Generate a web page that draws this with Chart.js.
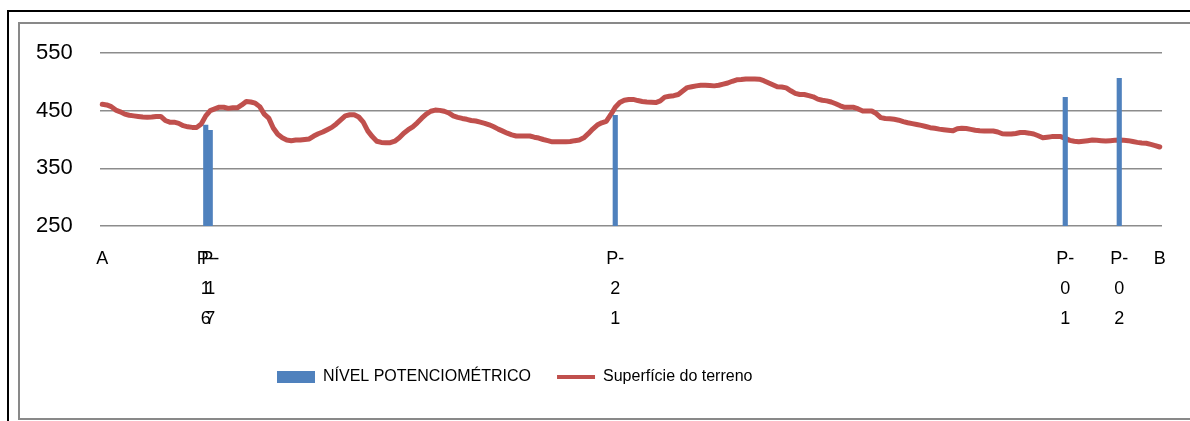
<!DOCTYPE html>
<html>
<head>
<meta charset="utf-8">
<script src="https://cdn.jsdelivr.net/npm/chart.js@4.4.1/dist/chart.umd.min.js"></script>
<style>
body { margin: 0; background: #fff; overflow: hidden; }
#outer { position: absolute; left: 7px; top: 10px; width: 1400px; height: 600px; border: 2px solid #000; }
#inner { position: absolute; left: 18px; top: 22px; width: 1400px; height: 398px; box-sizing: border-box; border: 2px solid #898989; }
#chartBox { position: absolute; left: 20px; top: 24px; }
</style>
</head>
<body>
<div id="outer"></div>
<div id="inner"></div>
<div id="chartBox"><canvas id="profileChart" width="1170" height="395"></canvas></div>
<script>
// terrain profile A -> B (m), one value per category
var terrain = [
461, 460, 457, 451, 448, 444, 442, 441, 440, 439,
438.5, 439, 440, 440, 433, 430, 430, 428, 424, 422,
421, 421, 427, 441, 450, 453, 456, 456, 454, 455,
455, 460, 466, 465, 463, 457, 444, 437, 420, 409,
403, 399, 398, 399, 399, 400, 401, 406, 410, 413,
417, 421, 427, 434, 441, 443, 443, 439, 430, 415,
405, 397, 395, 394.5, 394.5, 397, 403, 411, 417, 422,
429, 437, 444, 449, 451, 450.5, 449, 446, 441, 438.5,
436.5, 435, 433, 432, 430, 428, 425.5, 422, 418, 414.5,
411, 408, 406, 406, 406, 406, 404, 402.5, 400, 398,
396, 396, 396, 396, 396.5, 398, 399, 403, 410, 418,
425, 429, 431.5, 443, 456, 464, 468, 469.5, 469.5, 467.5,
466, 465, 464.5, 464, 467, 473.5, 475, 476, 478, 484,
490, 491.5, 493, 494, 494, 493.5, 493, 494, 496, 498,
501, 503.5, 504, 505, 505, 505, 504.5, 502, 498.5, 495,
491.5, 491, 489.5, 484.5, 480, 478, 478, 476, 474, 470,
468, 467, 465, 462, 458.5, 455.8, 455.8, 455.8, 453, 449.4,
449.4, 449.4, 445, 438, 436.5, 436, 435, 433.5, 431, 429,
427.5, 426, 424.5, 422.5, 420.5, 419.5, 418, 417, 416, 415,
418.5, 419.4, 419, 417.5, 416, 415, 414.7, 414.7, 414.7, 413,
410, 409.5, 409.5, 410.5, 412, 412, 411, 409.5, 406.5, 403,
404, 405, 405, 405, 402, 398.5, 397, 396, 397, 398,
399, 398.5, 398, 397.5, 398, 398.5, 399, 398.5, 398, 396.5,
395, 394, 393.5, 391.5, 389.5, 387
];

// piezometers: name, category index along the profile, potentiometric level
var wellNames = ['P-16', 'P-17', 'P-21', 'P-01', 'P-02'];
var wellIndex = [23, 24, 114, 214, 226];
var wellLevel = [425, 416, 442, 473, 506];

var endNames = ['A', 'B'];
var yTicks = [250, 350, 450, 550];

var BLUE = '#4f81bd';
var RED = '#c0504d';
var FONT = '"Liberation Sans", Arial, sans-serif';

var labels = terrain.map(function () { return ''; });
labels[0] = endNames[0];
labels[labels.length - 1] = endNames[1];
var levels = terrain.map(function () { return null; });
wellNames.forEach(function (name, k) {
  // Excel wraps the narrow labels one piece per line
  labels[wellIndex[k]] = [name.slice(0, 2)].concat(name.slice(2).split(''));
  levels[wellIndex[k]] = wellLevel[k];
});

var shiftLegend = {
  id: 'shiftLegend',
  afterLayout: function (chart) { chart.legend.left = 231; }
};

var ctx = document.getElementById('profileChart').getContext('2d');
var chart = new Chart(ctx, {
  type: 'bar',
  data: {
    labels: labels,
    datasets: [{
      type: 'bar',
      label: 'NÍVEL POTENCIOMÉTRICO',
      data: levels,
      backgroundColor: BLUE,
      barPercentage: 1,
      categoryPercentage: 1,
      order: 0
    }, {
      type: 'line',
      label: 'Superfície do terreno',
      data: terrain,
      borderColor: RED,
      backgroundColor: RED,
      borderWidth: 5,
      pointRadius: 0,
      tension: 0,
      borderJoinStyle: 'round',
      borderCapStyle: 'round',
      order: 1
    }]
  },
  plugins: [shiftLegend],
  options: {
    responsive: false,
    animation: false,
    layout: { padding: { top: 29, right: 28, bottom: 24, left: 16 } },
    scales: {
      x: {
        offset: true,
        grid: { display: false, drawTicks: false },
        border: { display: false },
        ticks: {
          autoSkip: false, maxRotation: 0, minRotation: 0, padding: 18.5,
          color: '#000', font: { family: FONT, size: 18, lineHeight: '30px' }
        },
        afterFit: function (s) { s.height = 117; }
      },
      y: {
        min: yTicks[0], max: yTicks[yTicks.length - 1],
        afterBuildTicks: function (s) { s.ticks = yTicks.map(function (v) { return { value: v }; }); },
        grid: { color: '#8c8c8c', lineWidth: 1.5, drawTicks: false },
        border: { display: false },
        ticks: { padding: 10, crossAlign: 'far', color: '#000', font: { family: FONT, size: 22 } },
        afterFit: function (s) { s.width = 64; }
      }
    },
    plugins: {
      tooltip: { enabled: false },
      legend: {
        position: 'bottom',
        align: 'start',
        labels: {
          usePointStyle: true,
          pointStyleWidth: 38,
          boxHeight: 12,
          padding: 26,
          color: '#000',
          font: { family: FONT, size: 16 },
          generateLabels: function (c) {
            var ds = c.data.datasets;
            return [
              { text: ds[0].label, fillStyle: BLUE, strokeStyle: BLUE, lineWidth: 0, pointStyle: 'rect', datasetIndex: 0 },
              { text: ds[1].label, fillStyle: RED, strokeStyle: RED, lineWidth: 4, pointStyle: 'line', datasetIndex: 1 }
            ];
          }
        }
      }
    }
  }
});
</script>
</body>
</html>
